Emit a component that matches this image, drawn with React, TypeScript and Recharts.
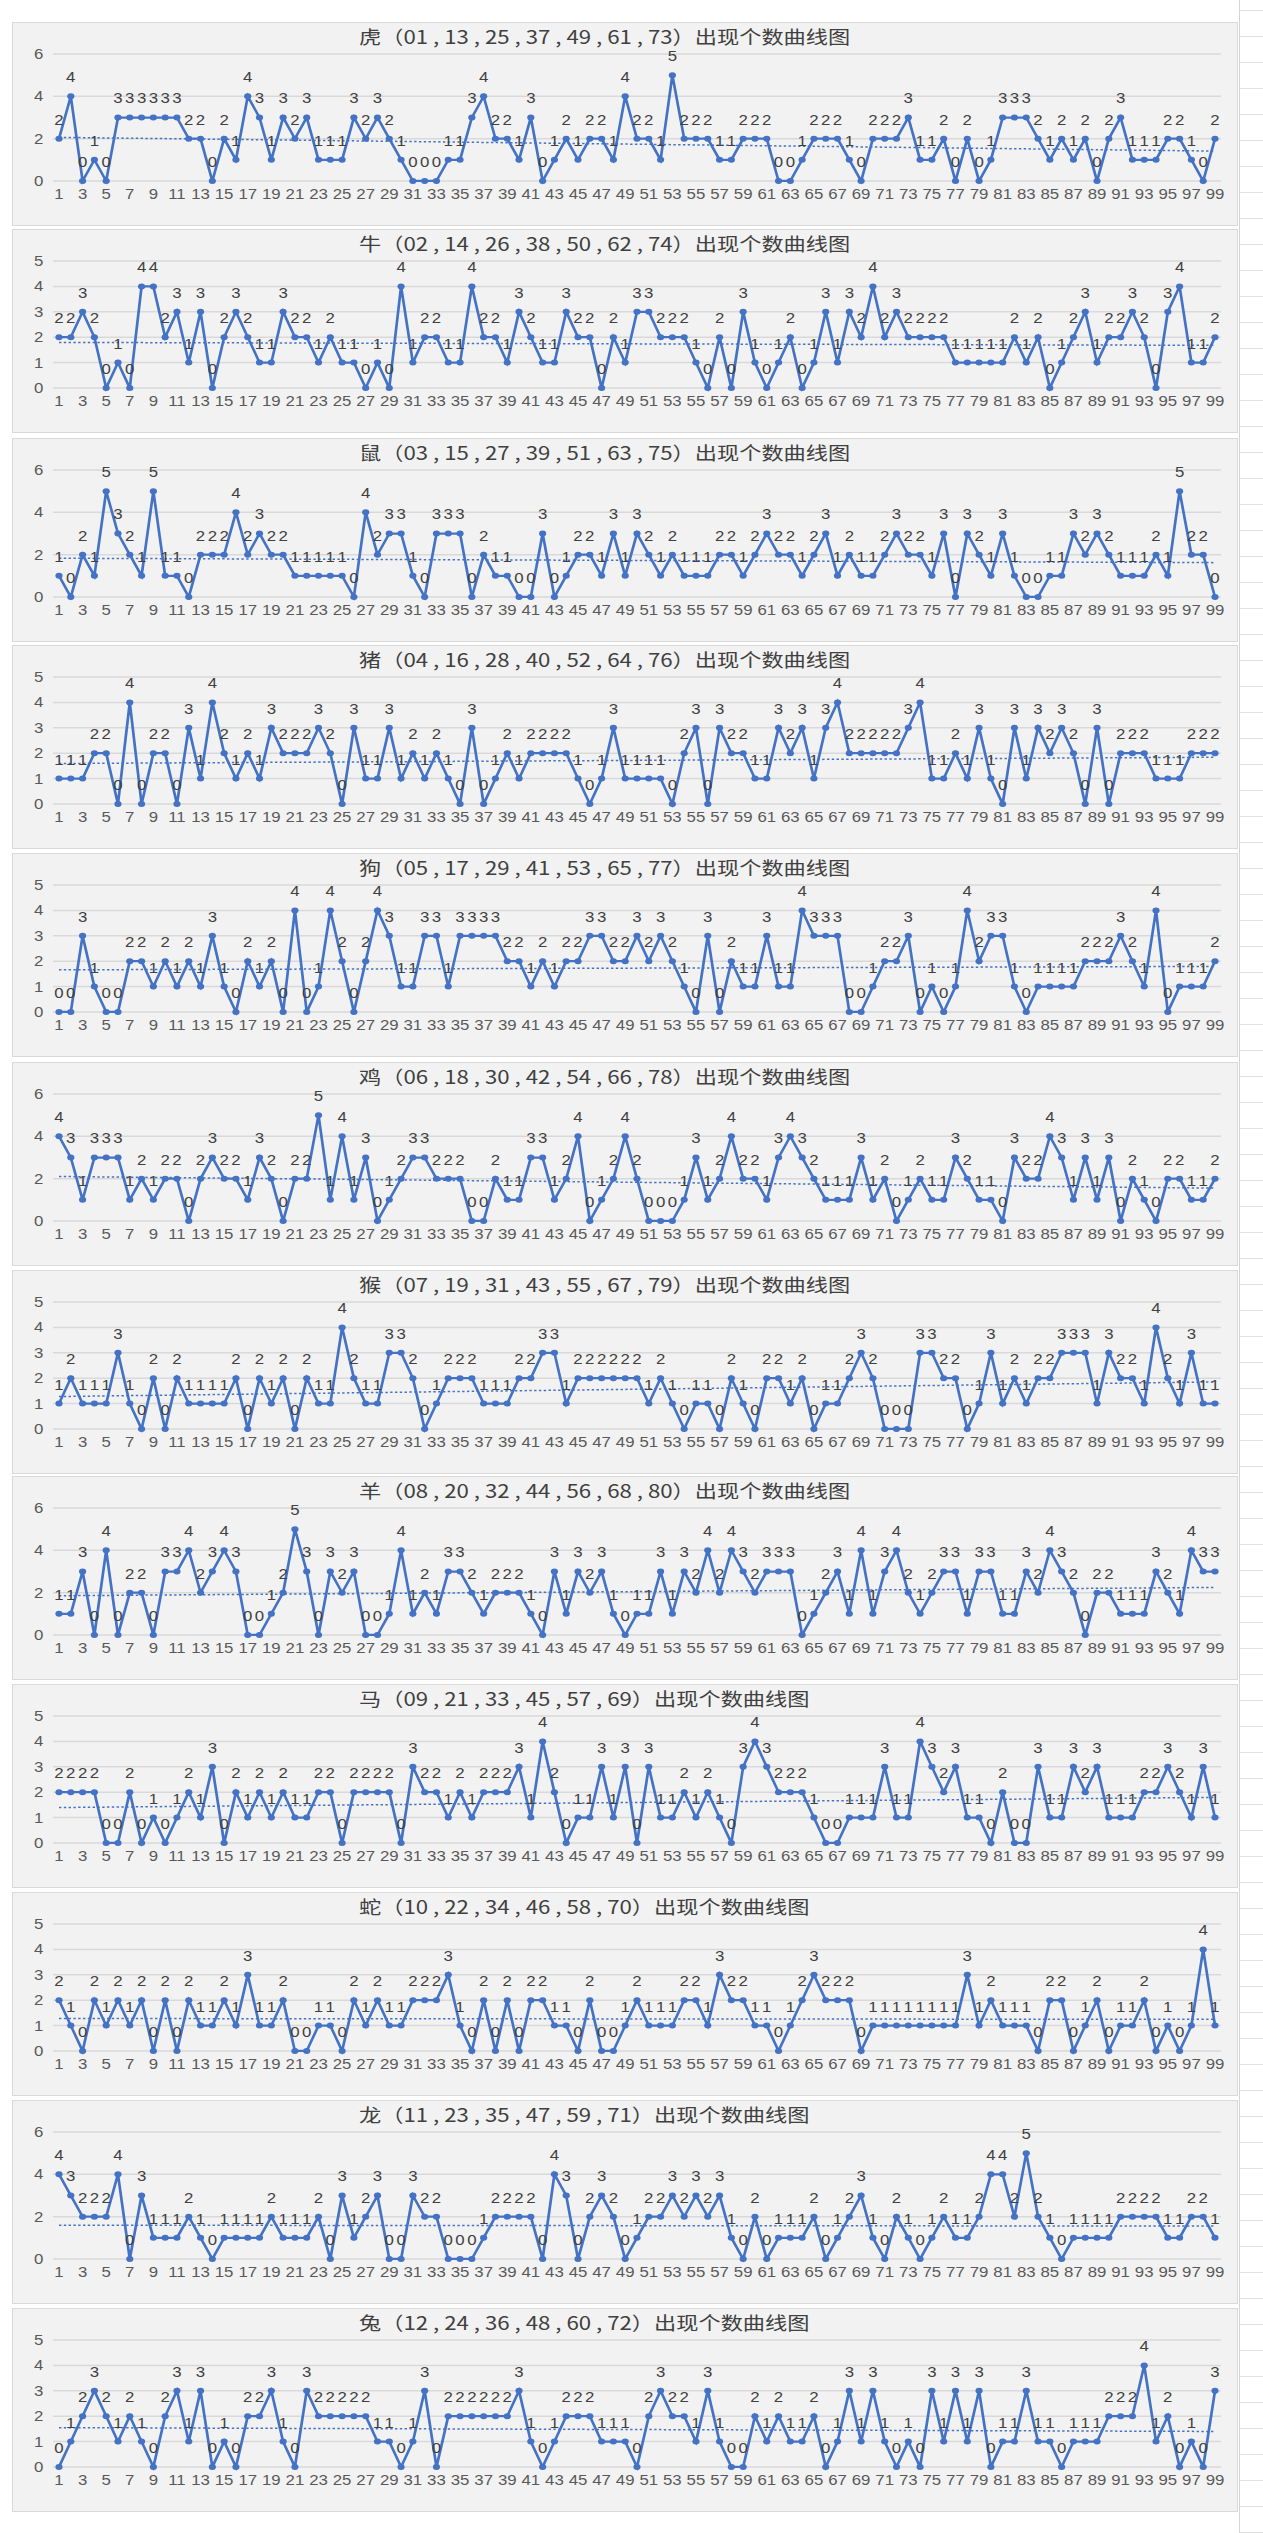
import React from 'react';
import { LineChart, Line, XAxis, YAxis, CartesianGrid, LabelList } from 'recharts';

// 期数 1..99
const periods = [
  1, 2, 3, 4, 5, 6, 7, 8, 9, 10, 11, 12, 13, 14, 15, 16, 17, 18, 19, 20,
  21, 22, 23, 24, 25, 26, 27, 28, 29, 30, 31, 32, 33, 34, 35, 36, 37, 38, 39, 40,
  41, 42, 43, 44, 45, 46, 47, 48, 49, 50, 51, 52, 53, 54, 55, 56, 57, 58, 59, 60,
  61, 62, 63, 64, 65, 66, 67, 68, 69, 70, 71, 72, 73, 74, 75, 76, 77, 78, 79, 80,
  81, 82, 83, 84, 85, 86, 87, 88, 89, 90, 91, 92, 93, 94, 95, 96, 97, 98, 99,
];

const tiger = [2,4,0,1,0,3,3,3,3,3, 3,2,2,0,2,1,4,3,1,3, 2,3,1,1,1,3,2,3,2,1, 0,0,0,1,1,3,4,2,2,1, 3,0,1,2,1,2,2,1,4,2, 2,1,5,2,2,2,1,1,2,2, 2,0,0,1,2,2,2,1,0,2, 2,2,3,1,1,2,0,2,0,1, 3,3,3,2,1,2,1,2,0,2, 3,1,1,1,2,2,1,0,2];
const ox = [2,2,3,2,0,1,0,4,4,2, 3,1,3,0,2,3,2,1,1,3, 2,2,1,2,1,1,0,1,0,4, 1,2,2,1,1,4,2,2,1,3, 2,1,1,3,2,2,0,2,1,3, 3,2,2,2,1,0,2,0,3,1, 0,1,2,0,1,3,1,3,2,4, 2,3,2,2,2,2,1,1,1,1, 1,2,1,2,0,1,2,3,1,2, 2,3,2,0,3,4,1,1,2];
const rat = [1,0,2,1,5,3,2,1,5,1, 1,0,2,2,2,4,2,3,2,2, 1,1,1,1,1,0,4,2,3,3, 1,0,3,3,3,0,2,1,1,0, 0,3,0,1,2,2,1,3,1,3, 2,1,2,1,1,1,2,2,1,2, 3,2,2,1,2,3,1,2,1,1, 2,3,2,2,1,3,0,3,2,1, 3,1,0,0,1,1,3,2,3,2, 1,1,1,2,1,5,2,2,0];
const pig = [1,1,1,2,2,0,4,0,2,2, 0,3,1,4,2,1,2,1,3,2, 2,2,3,2,0,3,1,1,3,1, 2,1,2,1,0,3,0,1,2,1, 2,2,2,2,1,0,1,3,1,1, 1,1,0,2,3,0,3,2,2,1, 1,3,2,3,1,3,4,2,2,2, 2,2,3,4,1,1,2,1,3,1, 0,3,1,3,2,3,2,0,3,0, 2,2,2,1,1,1,2,2,2];
const dog = [0,0,3,1,0,0,2,2,1,2, 1,2,1,3,1,0,2,1,2,0, 4,0,1,4,2,0,2,4,3,1, 1,3,3,1,3,3,3,3,2,2, 1,2,1,2,2,3,3,2,2,3, 2,3,2,1,0,3,0,2,1,1, 3,1,1,4,3,3,3,0,0,1, 2,2,3,0,1,0,1,4,2,3, 3,1,0,1,1,1,1,2,2,2, 3,2,1,4,0,1,1,1,2];
const rooster = [4,3,1,3,3,3,1,2,1,2, 2,0,2,3,2,2,1,3,2,0, 2,2,5,1,4,1,3,0,1,2, 3,3,2,2,2,0,0,2,1,1, 3,3,1,2,4,0,1,2,4,2, 0,0,0,1,3,1,2,4,2,2, 1,3,4,3,2,1,1,1,3,1, 2,0,1,2,1,1,3,2,1,1, 0,3,2,2,4,3,1,3,1,3, 0,2,1,0,2,2,1,1,2];
const monkey = [1,2,1,1,1,3,1,0,2,0, 2,1,1,1,1,2,0,2,1,2, 0,2,1,1,4,2,1,1,3,3, 2,0,1,2,2,2,1,1,1,2, 2,3,3,1,2,2,2,2,2,2, 1,2,1,0,1,1,0,2,1,0, 2,2,1,2,0,1,1,2,3,2, 0,0,0,3,3,2,2,0,1,3, 1,2,1,2,2,3,3,3,1,3, 2,2,1,4,2,1,3,1,1];
const goat = [1,1,3,0,4,0,2,2,0,3, 3,4,2,3,4,3,0,0,1,2, 5,3,0,3,2,3,0,0,1,4, 1,2,1,3,3,2,1,2,2,2, 1,0,3,1,3,2,3,1,0,1, 1,3,1,3,2,4,2,4,3,2, 3,3,3,0,1,2,3,1,4,1, 3,4,2,1,2,3,3,1,3,3, 1,1,3,2,4,3,2,0,2,2, 1,1,1,3,2,1,4,3,3];
const horse = [2,2,2,2,0,0,2,0,1,0, 1,2,1,3,0,2,1,2,1,2, 1,1,2,2,0,2,2,2,2,0, 3,2,2,1,2,1,2,2,2,3, 1,4,2,0,1,1,3,1,3,0, 3,1,1,2,1,2,1,0,3,4, 3,2,2,2,1,0,0,1,1,1, 3,1,1,4,3,2,3,1,1,0, 2,0,0,3,1,1,3,2,3,1, 1,1,2,2,3,2,1,3,1];
const snake = [2,1,0,2,1,2,1,2,0,2, 0,2,1,1,2,1,3,1,1,2, 0,0,1,1,0,2,1,2,1,1, 2,2,2,3,1,0,2,0,2,0, 2,2,1,1,0,2,0,0,1,2, 1,1,1,2,2,1,3,2,2,1, 1,0,1,2,3,2,2,2,0,1, 1,1,1,1,1,1,1,3,1,2, 1,1,1,0,2,2,0,1,2,0, 1,1,2,0,1,0,1,4,1];
const dragon = [4,3,2,2,2,4,0,3,1,1, 1,2,1,0,1,1,1,1,2,1, 1,1,2,0,3,1,2,3,0,0, 3,2,2,0,0,0,1,2,2,2, 2,0,4,3,0,2,3,2,0,1, 2,2,3,2,3,2,3,1,0,2, 0,1,1,1,2,0,1,2,3,1, 0,2,1,0,1,2,1,1,2,4, 4,2,5,2,1,0,1,1,1,1, 2,2,2,2,1,1,2,2,1];
const rabbit = [0,1,2,3,2,1,2,1,0,2, 3,1,3,0,1,0,2,2,3,1, 0,3,2,2,2,2,2,1,1,0, 1,3,0,2,2,2,2,2,2,3, 1,0,1,2,2,2,1,1,1,0, 2,3,2,2,1,3,1,0,0,2, 1,2,1,1,2,0,1,3,1,3, 1,0,1,0,3,1,3,1,3,0, 1,1,3,1,1,0,1,1,1,2, 2,2,4,1,2,0,1,0,3];

const titles = [
  '虎（01 , 13 , 25 , 37 , 49 , 61 , 73）出现个数曲线图',
  '牛（02 , 14 , 26 , 38 , 50 , 62 , 74）出现个数曲线图',
  '鼠（03 , 15 , 27 , 39 , 51 , 63 , 75）出现个数曲线图',
  '猪（04 , 16 , 28 , 40 , 52 , 64 , 76）出现个数曲线图',
  '狗（05 , 17 , 29 , 41 , 53 , 65 , 77）出现个数曲线图',
  '鸡（06 , 18 , 30 , 42 , 54 , 66 , 78）出现个数曲线图',
  '猴（07 , 19 , 31 , 43 , 55 , 67 , 79）出现个数曲线图',
  '羊（08 , 20 , 32 , 44 , 56 , 68 , 80）出现个数曲线图',
  '马（09 , 21 , 33 , 45 , 57 , 69）出现个数曲线图',
  '蛇（10 , 22 , 34 , 46 , 58 , 70）出现个数曲线图',
  '龙（11 , 23 , 35 , 47 , 59 , 71）出现个数曲线图',
  '兔（12 , 24 , 36 , 48 , 60 , 72）出现个数曲线图',
];
const series = [tiger, ox, rat, pig, dog, rooster, monkey, goat, horse, snake, dragon, rabbit];
const axisMax = [6, 5, 6, 5, 5, 6, 5, 6, 5, 5, 6, 5];

// layout
const panelTops = [22, 229, 438, 645, 853, 1062, 1270, 1476, 1684, 1892, 2100, 2308];
const PANEL_LEFT = 12;
const PANEL_W = 1226;
const PANEL_H = 204;
const K = 1.2; // the reference is stretched horizontally
const INNER_W = PANEL_W / K;
const BLUE = '#4472c4';
const NUM_FONT = '"Liberation Sans", Arial, sans-serif';

function ticksFor(max: number) {
  return max === 6 ? [0, 2, 4, 6] : [0, 1, 2, 3, 4, 5];
}

// Excel style linear trendline, derived from the values
function withTrend(values: number[]) {
  const n = values.length;
  const mx = (n + 1) / 2;
  const my = values.reduce((a, b) => a + b, 0) / n;
  let sxy = 0;
  let sxx = 0;
  values.forEach((v, i) => {
    const dx = i + 1 - mx;
    sxy += dx * (v - my);
    sxx += dx * dx;
  });
  const slope = sxy / sxx;
  return periods.map((p, i) => ({ p: String(p), v: values[i], t: my + slope * (p - mx) }));
}

function Panel({ idx }: { idx: number }) {
  const data = withTrend(series[idx]);
  const max = axisMax[idx];
  return (
    <div
      style={{
        position: 'absolute',
        left: PANEL_LEFT,
        top: panelTops[idx],
        width: PANEL_W,
        height: PANEL_H,
        background: '#f2f2f2',
        border: '1px solid #d9d9d9',
        boxSizing: 'border-box',
        overflow: 'hidden',
      }}
    >
      <div style={{ width: INNER_W, height: PANEL_H, transform: `scaleX(${K})`, transformOrigin: '0 0', position: 'relative' }}>
        <div
          style={{
            position: 'absolute',
            left: 346 / K,
            top: 2,
            fontFamily: '"Noto Sans CJK SC", sans-serif',
            fontSize: 18.5,
            color: '#404040',
            whiteSpace: 'nowrap',
            lineHeight: '22px',
          }}
        >
          {titles[idx]}
        </div>
        <LineChart
          width={INNER_W}
          height={PANEL_H}
          data={data}
          margin={{ top: 31, right: 18 / K, bottom: 16, left: 0 }}
          style={{ position: 'absolute', left: 0, top: 0 }}
        >
          <CartesianGrid vertical={false} stroke="#d9d9d9" strokeWidth={1.5} />
          <XAxis
            dataKey="p"
            interval={1}
            axisLine={false}
            tickLine={false}
            height={30}
            padding={{ left: 6 / K, right: 6 / K }}
            tick={{ fontSize: 14, fill: '#595959', fontFamily: NUM_FONT }}
          />
          <YAxis
            domain={[0, max]}
            ticks={ticksFor(max)}
            width={40 / K}
            axisLine={false}
            tickLine={false}
            tick={{ fontSize: 14, fill: '#595959', fontFamily: NUM_FONT }}
          />
          <Line
            dataKey="t"
            stroke={BLUE}
            strokeWidth={1.5}
            strokeDasharray="2 2"
            dot={false}
            activeDot={false}
            isAnimationActive={false}
          />
          <Line
            dataKey="v"
            stroke={BLUE}
            strokeWidth={2.25}
            dot={{ r: 3, fill: BLUE, stroke: BLUE, strokeWidth: 0 }}
            isAnimationActive={false}
          >
            <LabelList
              dataKey="v"
              position="top"
              offset={14}
              style={{ fontSize: 14, fill: '#404040', fontFamily: NUM_FONT }}
            />
          </Line>
        </LineChart>
      </div>
    </div>
  );
}

export default function App() {
  // faint spreadsheet rows on the right edge
  const rows = [];
  for (let y = 10; y < 2533; y += 26) rows.push(y);
  return (
    <div style={{ position: 'absolute', left: 0, top: 0, width: 1263, height: 2533, background: '#ffffff', overflow: 'hidden' }}>
      <div style={{ position: 'absolute', left: 1239, top: 0, width: 1, height: 2533, background: '#d4d4d4' }} />
      {rows.map((y) => (
        <div key={y} style={{ position: 'absolute', left: 1240, top: y, width: 23, height: 1, background: '#e1e1e1' }} />
      ))}
      {titles.map((_, i) => (
        <Panel key={i} idx={i} />
      ))}
    </div>
  );
}
